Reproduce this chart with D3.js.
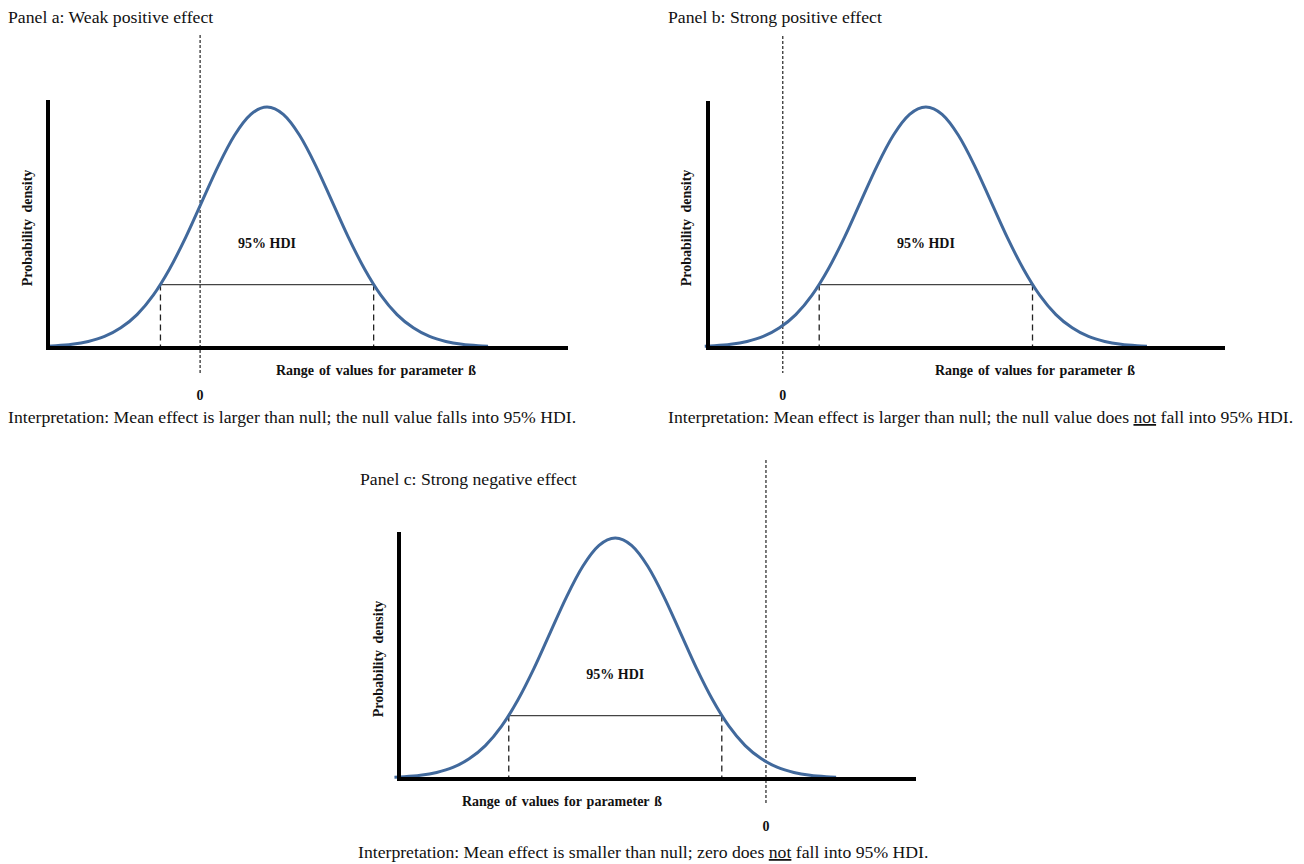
<!DOCTYPE html>
<html>
<head>
<meta charset="utf-8">
<title>HDI panels</title>
<script src="https://cdn.jsdelivr.net/npm/d3@7"></script>
<style>
  body { margin: 0; background: #fff; }
  text { font-family: "Liberation Serif", "Times New Roman", serif; fill: #111; }
  .bold { font-weight: bold; font-size: 14px; }
  .title { font-size: 17.7px; }
</style>
</head>
<body>
<svg id="chart" width="1304" height="864"></svg>
<script>
// shape of the posterior (offset in sd units, relative height)
var curveZ = [-3.4, -3.25, -3, -2.75, -2.5, -2.25, -2, -1.75, -1.5, -1.25, -1, -0.75, -0.5, -0.25, 0,
              0.25, 0.5, 0.75, 1, 1.25, 1.5, 1.75, 2, 2.25, 2.5, 2.75, 3, 3.25, 3.4];
var curveH = [0.003, 0.005, 0.011, 0.023, 0.044, 0.08, 0.135, 0.216, 0.325, 0.458, 0.607, 0.755, 0.882, 0.969, 1,
              0.969, 0.882, 0.755, 0.607, 0.458, 0.325, 0.216, 0.135, 0.08, 0.044, 0.023, 0.011, 0.005, 0.003];
var hdiZ = [-1.64, 1.64];
var hdiH = 0.26;

var panelTitles = ["Panel a: Weak positive effect", "Panel b: Strong positive effect", "Panel c: Strong negative effect"];
var panelMeans = [1.03, 2.2, -2.32];
var nullValue = 0;
var axisDomains = [[-2.34, 5.66], [-1.15, 6.8], [-5.65, 2.31]];
var interpA = ["Interpretation: Mean effect is larger than null; the null value falls into 95% HDI."];
var interpB = ["Interpretation: Mean effect is larger than null; the null value does ", "not", " fall into 95% HDI."];
var interpC = ["Interpretation: Mean effect is smaller than null; zero does ", "not", " fall into 95% HDI."];
var interps = [interpA, interpB, interpC];

// layout of each panel on the page
var layout = [
  {x0: 48, x1: 568, base: 347, top: 100, titleX: 8, titleY: 23, nullTop: 35, interpX: 8, interpY: 423, labelX: 376, ylabX: 27},
  {x0: 708, x1: 1225, base: 347, top: 101, titleX: 668, titleY: 23, nullTop: 36, interpX: 668, interpY: 423, labelX: 1035, ylabX: 686},
  {x0: 399, x1: 916, base: 778, top: 532, titleX: 360, titleY: 485, nullTop: 460, interpX: 358, interpY: 858, labelX: 562, ylabX: 378}
];
var peakPx = 240;

var svg = d3.select("#chart");
var curveColor = "#41699c";

panelTitles.forEach(function(title, i) {
  var L = layout[i];
  var g = svg.append("g");
  var x = d3.scaleLinear().domain(axisDomains[i]).range([L.x0, L.x1]);
  var y = d3.scaleLinear().domain([0, 1]).range([L.base, L.base - peakPx]);
  var mean = panelMeans[i];

  g.append("text").attr("class", "title").attr("x", L.titleX).attr("y", L.titleY).text(title);

  // null value line
  g.append("line")
    .attr("x1", x(nullValue)).attr("x2", x(nullValue))
    .attr("y1", L.nullTop).attr("y2", L.base + 26)
    .attr("stroke", "#222").attr("stroke-width", 1.2)
    .attr("stroke-dasharray", "3,2");
  g.append("text").attr("class", "bold")
    .attr("x", x(nullValue)).attr("y", L.base + 53)
    .attr("text-anchor", "middle").text("0");

  // HDI bar and drop lines
  var hx = hdiZ.map(function(z) { return x(mean + z); });
  g.append("line")
    .attr("x1", hx[0]).attr("x2", hx[1])
    .attr("y1", y(hdiH)).attr("y2", y(hdiH))
    .attr("stroke", "#444").attr("stroke-width", 1.4);
  hx.forEach(function(px) {
    g.append("line")
      .attr("x1", px).attr("x2", px)
      .attr("y1", y(hdiH)).attr("y2", L.base)
      .attr("stroke", "#222").attr("stroke-width", 1.3)
      .attr("stroke-dasharray", "6,4");
  });
  g.append("text").attr("class", "bold")
    .attr("x", x(mean)).attr("y", L.base - 99)
    .attr("text-anchor", "middle").text("95% HDI");

  // density curve
  var line = d3.line()
    .x(function(d, k) { return x(mean + curveZ[k]); })
    .y(function(d) { return y(d); })
    .curve(d3.curveMonotoneX);
  g.append("path")
    .attr("d", line(curveH))
    .attr("fill", "none")
    .attr("stroke", curveColor)
    .attr("stroke-width", 3);

  // axes
  g.append("line")
    .attr("x1", L.x0).attr("x2", L.x0)
    .attr("y1", L.top).attr("y2", L.base + 3)
    .attr("stroke", "#000").attr("stroke-width", 4);
  g.append("line")
    .attr("x1", L.x0 - 2).attr("x2", L.x1)
    .attr("y1", L.base + 1).attr("y2", L.base + 1)
    .attr("stroke", "#000").attr("stroke-width", 4);

  g.append("text").attr("class", "bold")
    .attr("x", L.labelX).attr("y", L.base + 28)
    .attr("text-anchor", "middle")
    .style("word-spacing", "1.5px")
    .text("Range of values for parameter \u00DF");
  g.append("text").attr("class", "bold")
    .attr("transform", "translate(" + (L.ylabX + 5) + "," + (L.base - 119) + ") rotate(-90)")
    .attr("text-anchor", "middle")
    .style("word-spacing", "3px")
    .text("Probability density");

  var t = g.append("text").attr("class", "title").attr("x", L.interpX).attr("y", L.interpY);
  interps[i].forEach(function(s, k) {
    t.append("tspan").text(s).style("text-decoration", k === 1 ? "underline" : null);
  });
});
</script>
</body>
</html>
